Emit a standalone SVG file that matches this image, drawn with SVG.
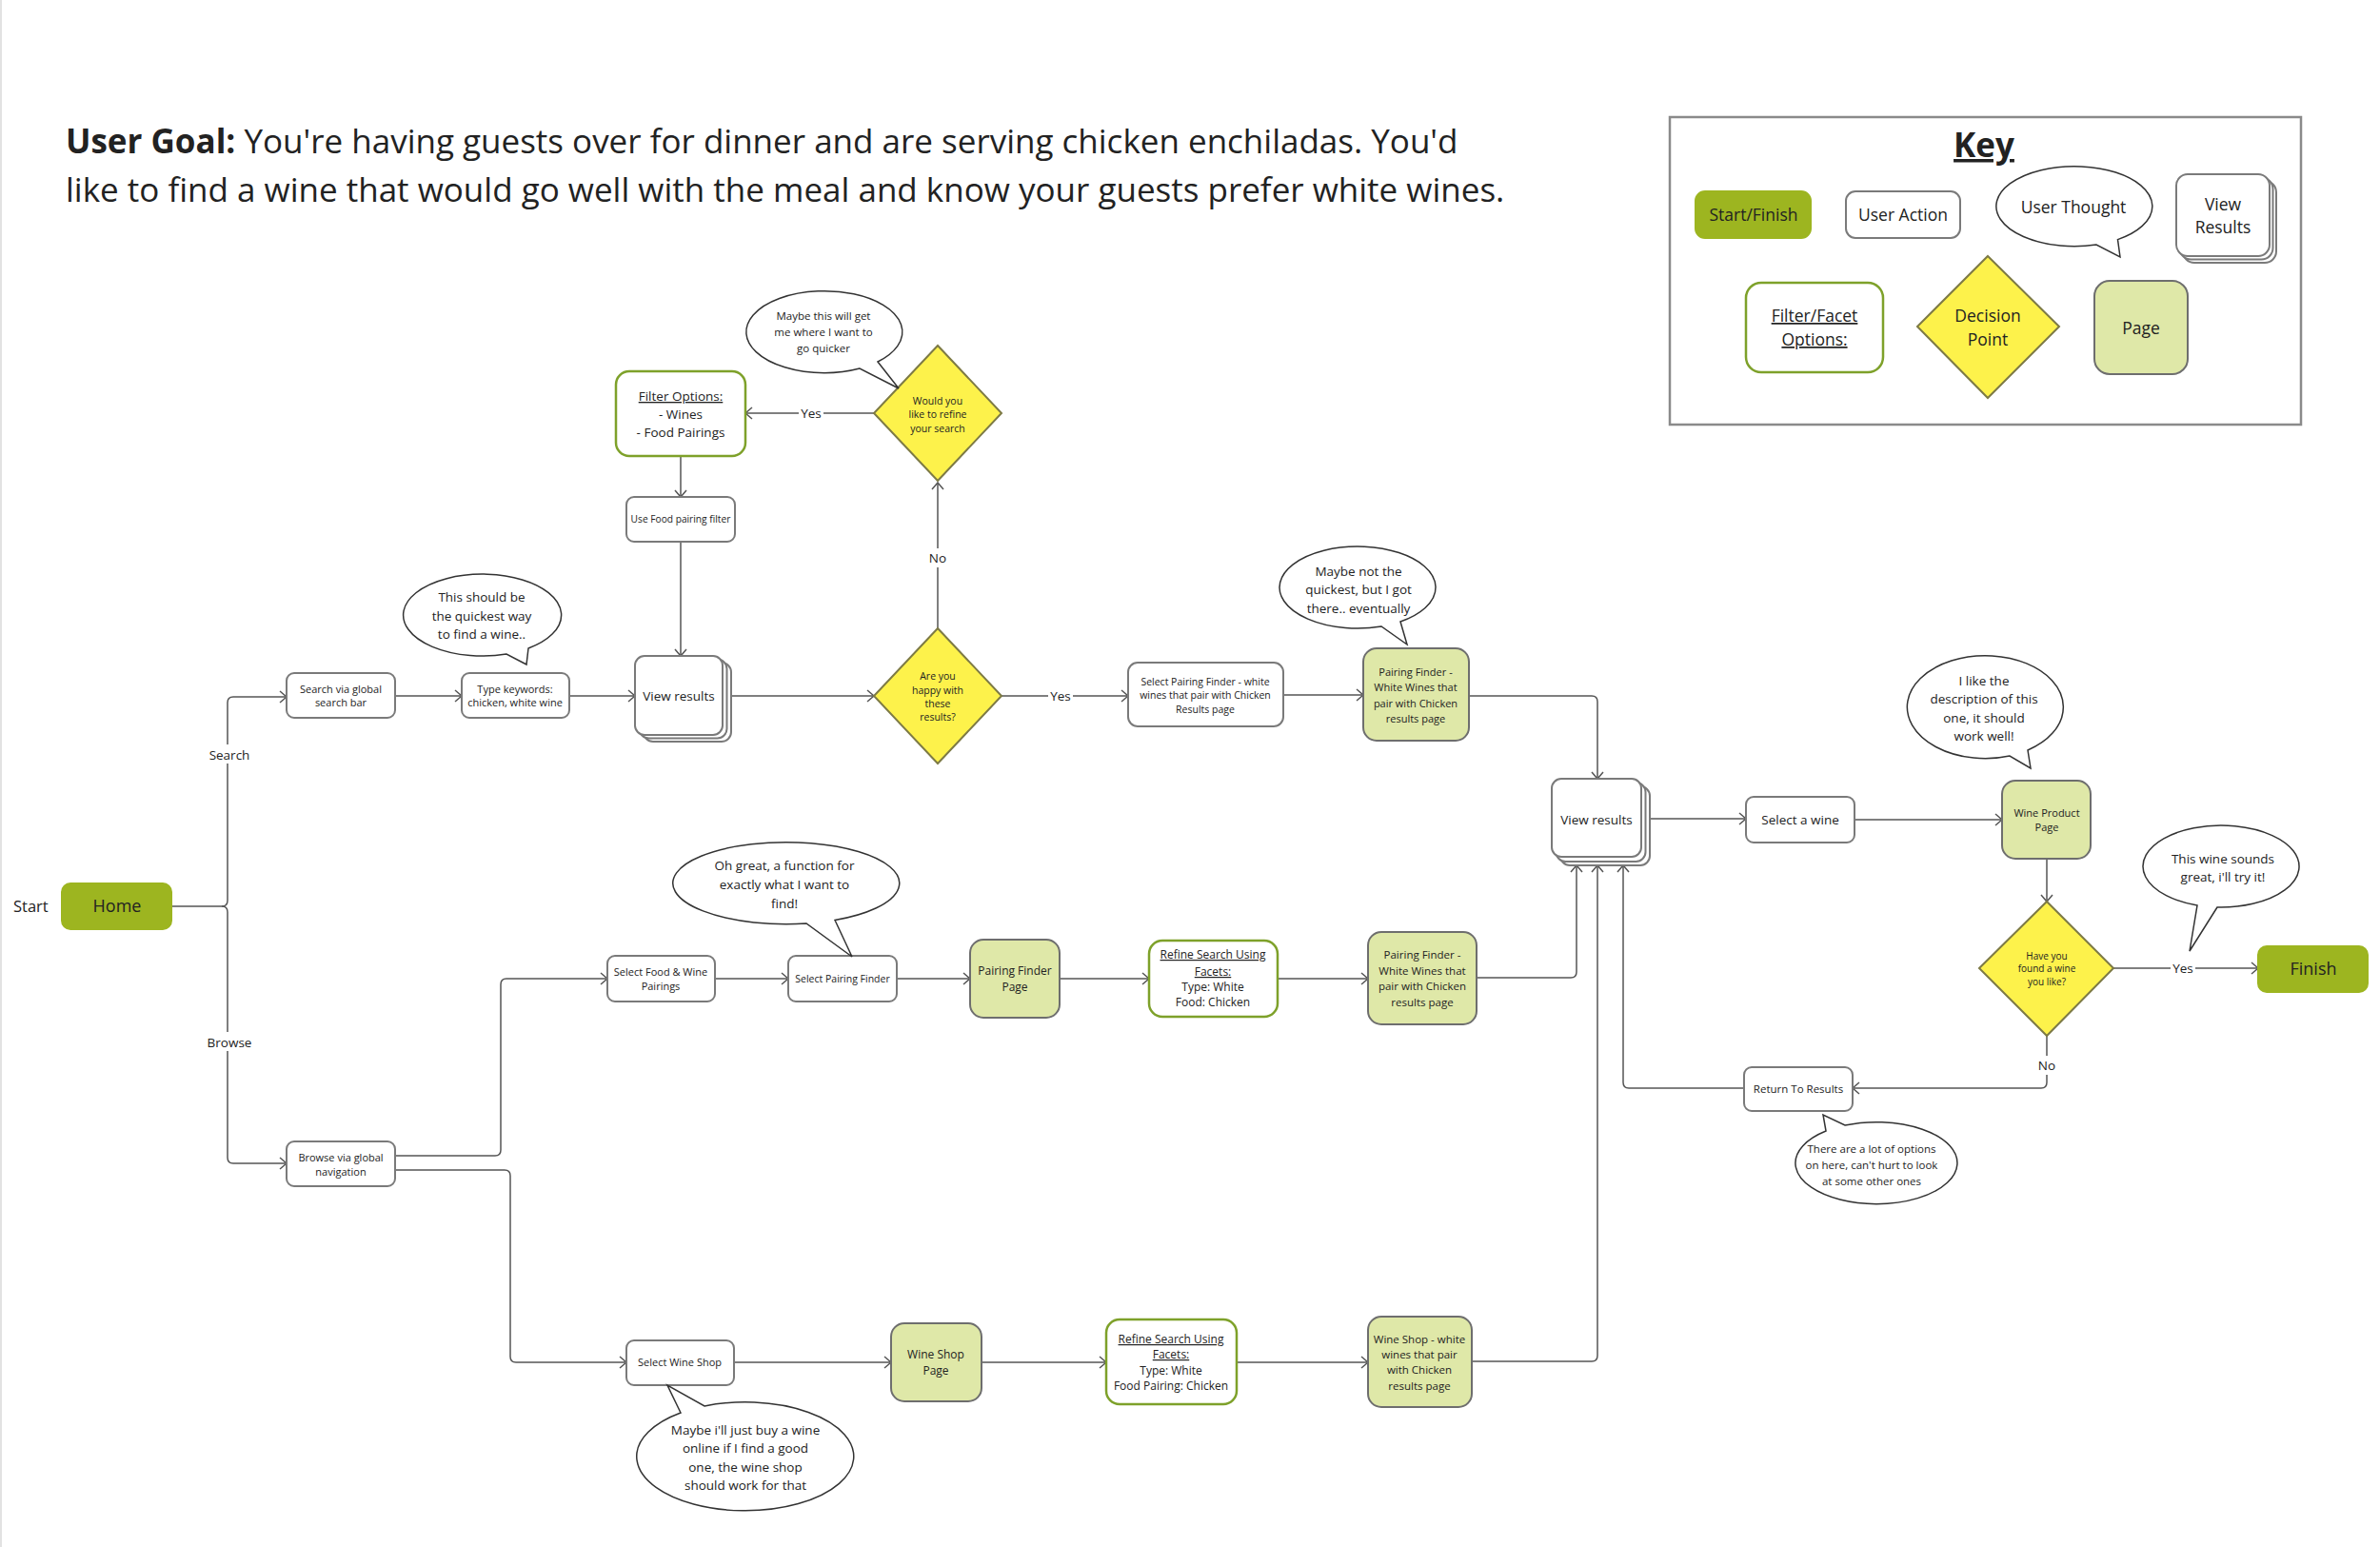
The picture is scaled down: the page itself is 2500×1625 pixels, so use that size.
<svg xmlns="http://www.w3.org/2000/svg" width="2500" height="1625" viewBox="0 0 2500 1625">
<defs>
<marker id="ah" markerWidth="10" markerHeight="14" refX="8" refY="7" orient="auto" markerUnits="userSpaceOnUse"><path d="M1,1 L8,7 L1,13" fill="none" stroke="#555" stroke-width="1.5"/></marker>
<style>
text{font-family:"Open Sans","Noto Sans","Liberation Sans",sans-serif;fill:#222;text-anchor:middle}
.ua{fill:#fff;stroke:#7a7a7a;stroke-width:2}
.pg{fill:#dfe8a8;stroke:#6e6e6e;stroke-width:2}
.sf{fill:#9db520;stroke:#9db520;stroke-width:2}
.ff{fill:#fff;stroke:#7ea12a;stroke-width:2.5}
.dp{fill:#fdf24b;stroke:#7d7a45;stroke-width:2}
.th{fill:#fff;stroke:#333;stroke-width:1.5}
.c{fill:none;stroke:#555;stroke-width:1.5;marker-end:url(#ah)}
.lb{fill:#fff}
.s11{font-size:11px}
.s10{font-size:10.5px}
.s12{font-size:12px}
.s13{font-size:13.5px}
.s17{font-size:17.5px}
.u{text-decoration:underline}
</style>
</defs>
<rect x="0" y="0" width="2500" height="1625" fill="#fff"/>
<line x1="1" y1="0" x2="1" y2="1625" stroke="#e2e2e2" stroke-width="2"/>

<g id="title">
<text x="69" y="161" style="font-size:35px;text-anchor:start"><tspan font-weight="bold">User Goal:</tspan> You're having guests over for dinner and are serving chicken enchiladas. You'd</text>
<text x="69" y="212" style="font-size:35px;text-anchor:start">like to find a wine that would go well with the meal and know your guests prefer white wines.</text>
</g>

<g id="key">
<rect x="1754" y="123" width="663" height="323" fill="#fff" stroke="#8a8a8a" stroke-width="2.5"/>
<text x="2084" y="165" class="u" style="font-size:35px;font-weight:bold">Key</text>
<rect x="1781" y="201" width="121" height="49" rx="10" class="sf"/>
<text x="1842" y="232" class="s17">Start/Finish</text>
<rect x="1939" y="201" width="120" height="49" rx="10" class="ua"/>
<text x="1999" y="232" class="s17">User Action</text>
<path d="M2224.5,251.6 L2227,270 L2202,257 A82 42 0 1 1 2224.5,251.6 Z" class="th"/>
<text x="2178" y="224" class="s17">User Thought</text>
<rect x="2293" y="190" width="98" height="86" rx="12" class="ua"/>
<rect x="2289.5" y="186.5" width="98" height="86" rx="12" class="ua"/>
<rect x="2286" y="183" width="98" height="86" rx="12" class="ua"/>
<text x="2335" y="221" class="s17">View</text>
<text x="2335" y="245" class="s17">Results</text>
<rect x="1834" y="297" width="144" height="94" rx="16" class="ff"/>
<text x="1906" y="338" class="s17 u">Filter/Facet </text>
<text x="1906" y="363" class="s17 u">Options:</text>
<polygon points="2088,269 2163,343 2088,418 2014,343" class="dp"/>
<text x="2088" y="338" class="s17">Decision</text>
<text x="2088" y="363" class="s17">Point</text>
<rect x="2200" y="295" width="98" height="98" rx="16" class="pg"/>
<text x="2249" y="351" class="s17">Page</text>
</g>

<g id="connectors">
<path d="M180,952 H233 Q239,952 239,946 V738 Q239,732 245,732 H301" class="c"/>
<path d="M233,952 Q239,952 239,958 V1216 Q239,1222 245,1222 H301" class="c"/>
<path d="M415,731 H485" class="c"/>
<path d="M598,731 H667" class="c"/>
<path d="M769,731 H918" class="c"/>
<path d="M985,660 V507" class="c"/>
<path d="M918,434 H783" class="c"/>
<path d="M715,479 V522" class="c"/>
<path d="M715,569 V689" class="c"/>
<path d="M1052,731 H1185" class="c"/>
<path d="M1348,730 H1432" class="c"/>
<path d="M1543,731 H1672 Q1678,731 1678,737 V818" class="c"/>
<path d="M415,1214 H520 Q526,1214 526,1208 V1034 Q526,1028 532,1028 H638" class="c"/>
<path d="M415,1229 H530 Q536,1229 536,1235 V1425 Q536,1431 542,1431 H658" class="c"/>
<path d="M751,1028 H828" class="c"/>
<path d="M942,1028 H1019" class="c"/>
<path d="M1113,1028 H1207" class="c"/>
<path d="M1342,1028 H1437" class="c"/>
<path d="M1551,1027 H1650 Q1656,1027 1656,1021 V909" class="c"/>
<path d="M771,1431 H936" class="c"/>
<path d="M1031,1431 H1162" class="c"/>
<path d="M1299,1431 H1437" class="c"/>
<path d="M1546,1430 H1672 Q1678,1430 1678,1424 V909" class="c"/>
<path d="M1733,860 H1834" class="c"/>
<path d="M1948,861 H2103" class="c"/>
<path d="M2150,902 V947" class="c"/>
<path d="M2220,1017 H2372" class="c"/>
<path d="M2150,1088 V1137 Q2150,1143 2144,1143 H1946" class="c"/>
<path d="M1832,1143 H1711 Q1705,1143 1705,1137 V909" class="c"/>
<rect x="215" y="782" width="52" height="20" class="lb"/>
<text x="241" y="798" class="s13">Search</text>
<rect x="214" y="1084" width="54" height="20" class="lb"/>
<text x="241" y="1100" class="s13">Browse</text>
<rect x="973" y="576" width="24" height="20" class="lb"/>
<text x="985" y="591" class="s13">No</text>
<rect x="839" y="424" width="26" height="20" class="lb"/>
<text x="852" y="439" class="s13">Yes</text>
<rect x="1101" y="721" width="26" height="20" class="lb"/>
<text x="1114" y="736" class="s13">Yes</text>
<rect x="2280" y="1007" width="26" height="20" class="lb"/>
<text x="2293" y="1022" class="s13">Yes</text>
<rect x="2138" y="1109" width="24" height="20" class="lb"/>
<text x="2150" y="1124" class="s13">No</text>
</g>

<g id="start">
<text x="14" y="958" style="font-size:16.5px;text-anchor:start">Start</text>
</g>
<g id="home">
<rect x="65" y="928" width="115" height="48" rx="9" class="sf"/>
<text x="123" y="958" style="font-size:18px">Home</text>
</g>

<g id="search-bar">
<rect x="301" y="707" width="114" height="47" rx="8" class="ua"/>
<text x="358" y="728" class="s11">Search via global</text>
<text x="358" y="742" class="s11">search bar</text>
</g>
<g id="type-keywords">
<rect x="485" y="707" width="113" height="47" rx="8" class="ua"/>
<text x="541" y="728" class="s11">Type keywords:</text>
<text x="541" y="742" class="s11">chicken, white wine</text>
</g>
<g id="thought-quickest">
<path d="M555,681 L553,698 L532,687 A83 43 0 1 1 555,681 Z" class="th"/>
<text x="506" y="632" class="s13">This should be</text>
<text x="506" y="652" class="s13">the quickest way</text>
<text x="506" y="671" class="s13">to find a wine..</text>
</g>
<g id="view-results-1">
<rect x="676" y="696" width="92" height="83" rx="10" class="ua"/>
<rect x="671.5" y="692.5" width="92" height="83" rx="10" class="ua"/>
<rect x="667" y="689" width="92" height="83" rx="10" class="ua"/>
<text x="713" y="736" class="s13">View results</text>
</g>
<g id="filter-options">
<rect x="647" y="390" width="136" height="89" rx="14" class="ff"/>
<text x="715" y="421" class="s13 u">Filter Options:</text>
<text x="715" y="440" class="s13">- Wines</text>
<text x="715" y="459" class="s13">- Food Pairings</text>
</g>
<g id="use-food-filter">
<rect x="658" y="522" width="114" height="47" rx="8" class="ua"/>
<text x="715" y="549" style="font-size:10.2px">Use Food pairing filter</text>
</g>
<g id="decision-refine">
<polygon points="985,363 1052,434 985,505 918,434" class="dp"/>
<text x="985" y="425" class="s10">Would you</text>
<text x="985" y="439" class="s10">like to refine</text>
<text x="985" y="454" class="s10">your search</text>
</g>
<g id="thought-refine">
<path d="M922,380 L944,408 L903,387 A82 43 0 1 1 922,380 Z" class="th"/>
<text x="865" y="336" style="font-size:11.5px">Maybe this will get</text>
<text x="865" y="353" style="font-size:11.5px">me where I want to</text>
<text x="865" y="370" style="font-size:11.5px">go quicker</text>
</g>
<g id="decision-happy">
<polygon points="985,660 1052,731 985,802 918,731" class="dp"/>
<text x="985" y="714" class="s10">Are you</text>
<text x="985" y="729" class="s10">happy with</text>
<text x="985" y="743" class="s10">these</text>
<text x="985" y="757" class="s10">results?</text>
</g>
<g id="select-pairing-finder-white">
<rect x="1185" y="696" width="163" height="67" rx="10" class="ua"/>
<text x="1266" y="720" class="s10">Select Pairing Finder - white</text>
<text x="1266" y="734" class="s10">wines that pair with Chicken</text>
<text x="1266" y="749" class="s10">Results page</text>
</g>
<g id="pf-results-1">
<rect x="1432" y="681" width="111" height="97" rx="14" class="pg"/>
<text x="1487" y="710" class="s11">Pairing Finder -</text>
<text x="1487" y="726" class="s11">White Wines that</text>
<text x="1487" y="743" class="s11">pair with Chicken</text>
<text x="1487" y="759" class="s11">results page</text>
</g>
<g id="thought-eventually">
<path d="M1471,653 L1478,677 L1451,658 A82 43 0 1 1 1471,653 Z" class="th"/>
<text x="1427" y="605" class="s13">Maybe not the</text>
<text x="1427" y="624" class="s13">quickest, but I got</text>
<text x="1427" y="644" class="s13">there.. eventually</text>
</g>

<g id="view-results-2">
<rect x="1639" y="826" width="94" height="83" rx="10" class="ua"/>
<rect x="1634.5" y="822" width="94" height="83" rx="10" class="ua"/>
<rect x="1630" y="818" width="94" height="82" rx="10" class="ua"/>
<text x="1677" y="866" class="s13">View results</text>
</g>
<g id="select-wine">
<rect x="1834" y="837" width="114" height="48" rx="8" class="ua"/>
<text x="1891" y="866" class="s13">Select a wine</text>
</g>
<g id="wine-product-page">
<rect x="2103" y="820" width="93" height="82" rx="14" class="pg"/>
<text x="2150" y="858" class="s11">Wine Product</text>
<text x="2150" y="873" class="s11">Page</text>
</g>
<g id="thought-description">
<path d="M2130,788 L2133,807 L2111,794 A82 54 0 1 1 2130,788 Z" class="th"/>
<text x="2084" y="720" class="s13">I like the</text>
<text x="2084" y="739" class="s13">description of this</text>
<text x="2084" y="759" class="s13">one, it should</text>
<text x="2084" y="778" class="s13">work well!</text>
</g>
<g id="decision-found">
<polygon points="2150,947 2220,1017 2150,1088 2079,1017" class="dp"/>
<text x="2150" y="1008" style="font-size:10px">Have you</text>
<text x="2150" y="1021" style="font-size:10px">found a wine</text>
<text x="2150" y="1035" style="font-size:10px">you like?</text>
</g>
<g id="finish">
<rect x="2372" y="994" width="115" height="48" rx="9" class="sf"/>
<text x="2430" y="1024" style="font-size:18px">Finish</text>
</g>
<g id="thought-sounds">
<path d="M2329,953 L2300,999 L2308,951 A82 43 0 1 1 2329,953 Z" class="th"/>
<text x="2335" y="907" class="s13">This wine sounds</text>
<text x="2335" y="926" class="s13">great, i'll try it!</text>
</g>
<g id="return-results">
<rect x="1832" y="1121" width="114" height="46" rx="8" class="ua"/>
<text x="1889" y="1148" style="font-size:11.5px">Return To Results</text>
</g>
<g id="thought-return">
<path d="M1918,1188 L1915,1171 L1938,1182 A85 43 0 1 1 1918,1188 Z" class="th"/>
<text x="1966" y="1211" style="font-size:11.5px">There are a lot of options</text>
<text x="1966" y="1228" style="font-size:11.5px">on here, can't hurt to look</text>
<text x="1966" y="1245" style="font-size:11.5px">at some other ones</text>
</g>

<g id="browse-nav">
<rect x="301" y="1199" width="114" height="47" rx="8" class="ua"/>
<text x="358" y="1220" class="s11">Browse via global</text>
<text x="358" y="1235" class="s11">navigation</text>
</g>
<g id="select-food-wine">
<rect x="638" y="1004" width="113" height="48" rx="8" class="ua"/>
<text x="694" y="1025" class="s11">Select Food &amp; Wine</text>
<text x="694" y="1040" class="s11">Pairings</text>
</g>
<g id="select-pairing-finder">
<rect x="828" y="1004" width="114" height="48" rx="8" class="ua"/>
<text x="885" y="1032" class="s10">Select Pairing Finder</text>
</g>
<g id="thought-ohgreat">
<path d="M877,966.5 L895,1005 L847,970 A119 43 0 1 1 877,966.5 Z" class="th"/>
<text x="824" y="914" class="s13">Oh great, a function for</text>
<text x="824" y="934" class="s13">exactly what I want to</text>
<text x="824" y="954" class="s13">find!</text>
</g>
<g id="pf-page">
<rect x="1019" y="987" width="94" height="82" rx="14" class="pg"/>
<text x="1066" y="1024" class="s12">Pairing Finder</text>
<text x="1066" y="1041" class="s12">Page</text>
</g>
<g id="refine-1">
<rect x="1207" y="988" width="135" height="80" rx="14" class="ff"/>
<text x="1274" y="1007" class="s12 u">Refine Search Using </text>
<text x="1274" y="1025" class="s12 u">Facets:</text>
<text x="1274" y="1041" class="s12">Type: White</text>
<text x="1274" y="1057" class="s12">Food: Chicken</text>
</g>
<g id="pf-results-2">
<rect x="1437" y="979" width="114" height="97" rx="14" class="pg"/>
<text x="1494" y="1007" style="font-size:11.5px">Pairing Finder -</text>
<text x="1494" y="1024" style="font-size:11.5px">White Wines that</text>
<text x="1494" y="1040" style="font-size:11.5px">pair with Chicken</text>
<text x="1494" y="1057" style="font-size:11.5px">results page</text>
</g>

<g id="select-wine-shop">
<rect x="658" y="1408" width="113" height="47" rx="8" class="ua"/>
<text x="714" y="1435" class="s11">Select Wine Shop</text>
</g>
<g id="thought-shop">
<path d="M715,1484 L701,1455 L740,1477 A114 57 0 1 1 715,1484 Z" class="th"/>
<text x="783" y="1507" class="s13">Maybe i'll just buy a wine</text>
<text x="783" y="1526" class="s13">online if I find a good</text>
<text x="783" y="1546" class="s13">one, the wine shop</text>
<text x="783" y="1565" class="s13">should work for that</text>
</g>
<g id="wine-shop-page">
<rect x="936" y="1390" width="95" height="82" rx="14" class="pg"/>
<text x="983" y="1427" class="s12">Wine Shop</text>
<text x="983" y="1444" class="s12">Page</text>
</g>
<g id="refine-2">
<rect x="1162" y="1386" width="137" height="89" rx="14" class="ff"/>
<text x="1230" y="1411" class="s12 u">Refine Search Using </text>
<text x="1230" y="1427" class="s12 u">Facets:</text>
<text x="1230" y="1444" class="s12">Type: White</text>
<text x="1230" y="1460" class="s12">Food Pairing: Chicken</text>
</g>
<g id="ws-results">
<rect x="1437" y="1383" width="109" height="95" rx="14" class="pg"/>
<text x="1491" y="1411" style="font-size:11.5px">Wine Shop - white</text>
<text x="1491" y="1427" style="font-size:11.5px">wines that pair</text>
<text x="1491" y="1443" style="font-size:11.5px">with Chicken</text>
<text x="1491" y="1460" style="font-size:11.5px">results page</text>
</g>
</svg>
